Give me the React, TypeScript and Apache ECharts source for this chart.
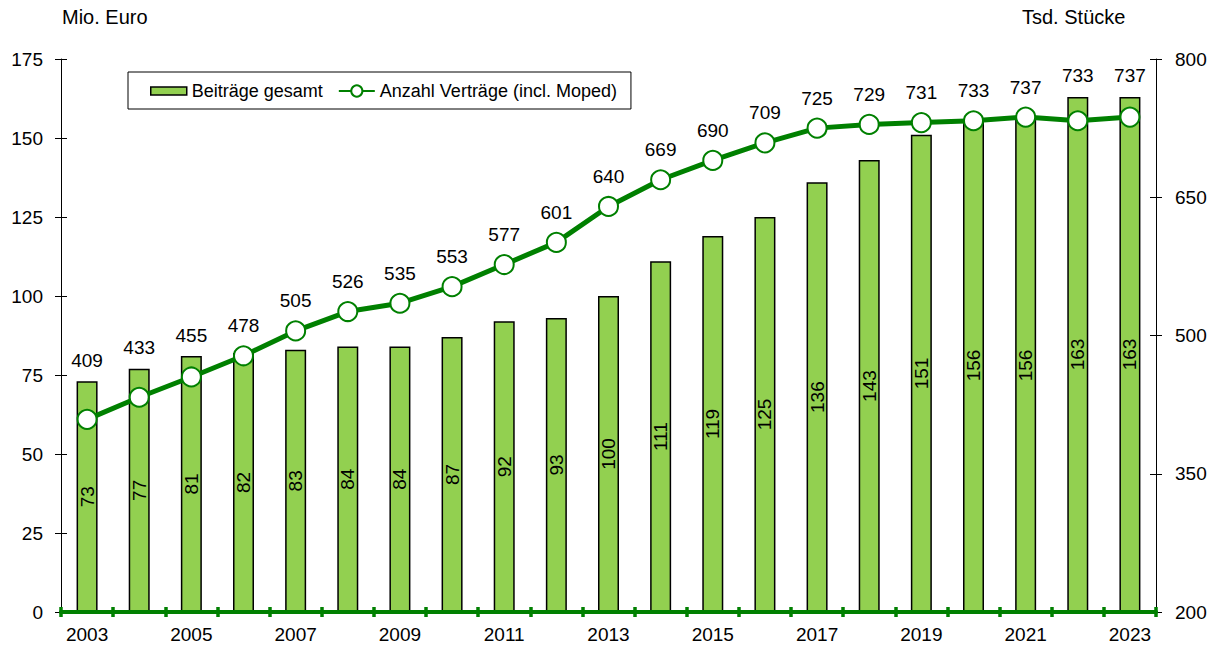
import React, { useEffect, useRef } from "react";
import * as echarts from "echarts";

const years = ["2003","2004","2005","2006","2007","2008","2009","2010","2011","2012","2013","2014","2015","2016","2017","2018","2019","2020","2021","2022","2023"];
const beitraege = [73,77,81,82,83,84,84,87,92,93,100,111,119,125,136,143,151,156,156,163,163];
const vertraege = [409,433,455,478,505,526,535,553,577,601,640,669,690,709,725,729,731,733,737,733,737];
const leftTitle = "Mio. Euro";
const rightTitle = "Tsd. Stücke";

const FONT = "Liberation Sans, Arial, sans-serif";
const LABEL_ABOVE_MARKER = 29;
const LABEL_ABOVE_BAR = 20;

export default function App() {
  const ref = useRef<HTMLDivElement>(null);
  useEffect(() => {
    if (!ref.current) return;
    const chart = echarts.init(ref.current, null, { renderer: "svg" });
    const tickStyle = { color: "#000", width: 1 };
    const lineLabelBase = {
      show: true,
      position: "top",
      distance: 10,
      fontSize: 19,
      color: "#000",
      fontFamily: FONT,
    };
    chart.setOption({
      animation: false,
      textStyle: { fontFamily: FONT },
      grid: { left: 61, right: 63, top: 59, bottom: 36, containLabel: false },
      legend: {
        left: 128,
        top: 72,
        padding: [10, 14, 9, 22],
        borderColor: "#000",
        borderWidth: 1,
        borderRadius: 0,
        itemGap: 15,
        itemWidth: 36,
        itemHeight: 14,
        textStyle: { fontSize: 18, color: "#000", fontFamily: FONT },
        data: [
          {
            name: "Beiträge gesamt",
            icon: "path://M0,0 L36,0 L36,8 L0,8 Z",
            itemStyle: { color: "#92D050", borderColor: "#000", borderWidth: 1.5 },
          },
          { name: "Anzahl Verträge (incl. Moped)" },
        ],
      },
      graphic: [
        { type: "text", left: 62, top: 7, style: { text: leftTitle, font: `20px ${FONT}`, fill: "#000" } },
        { type: "text", left: 1022, top: 7, style: { text: rightTitle, font: `20px ${FONT}`, fill: "#000" } },
      ],
      xAxis: [
        {
          type: "category",
          data: years,
          boundaryGap: true,
          axisLine: { show: true, lineStyle: { color: "#008000", width: 4 } },
          axisTick: { show: true, interval: 0, length: 5, lineStyle: { color: "#008000", width: 3.5 } },
          axisLabel: { interval: 1, fontSize: 19, color: "#000", margin: 13, fontFamily: FONT },
          z: 5,
        },
        {
          type: "category",
          data: years,
          boundaryGap: true,
          position: "bottom",
          axisLine: { show: false },
          axisTick: { show: true, inside: true, interval: 0, length: 5, lineStyle: { color: "#008000", width: 3.5 } },
          axisLabel: { show: false },
          splitLine: { show: false },
          z: 5,
        },
      ],
      yAxis: [
        {
          type: "value",
          min: 0,
          max: 175,
          interval: 25,
          position: "left",
          axisLine: { show: true, lineStyle: { color: "#000", width: 1 } },
          axisTick: { show: true, length: 6, lineStyle: tickStyle },
          axisLabel: { fontSize: 19, color: "#000", margin: 18, fontFamily: FONT },
          splitLine: { show: false },
        },
        {
          type: "value",
          min: 200,
          max: 800,
          interval: 150,
          position: "right",
          axisLine: { show: true, lineStyle: { color: "#000", width: 1 } },
          axisTick: { show: true, length: 6, lineStyle: tickStyle },
          axisLabel: { fontSize: 19, color: "#000", margin: 19, fontFamily: FONT },
          splitLine: { show: false },
        },
        {
          type: "value",
          min: 0,
          max: 175,
          interval: 25,
          position: "left",
          axisLine: { show: false },
          axisTick: { show: true, inside: true, length: 6, lineStyle: tickStyle },
          axisLabel: { show: false },
          splitLine: { show: false },
        },
        {
          type: "value",
          min: 200,
          max: 800,
          interval: 150,
          position: "right",
          axisLine: { show: false },
          axisTick: { show: true, inside: true, length: 6, lineStyle: tickStyle },
          axisLabel: { show: false },
          splitLine: { show: false },
        },
      ],
      series: [
        {
          name: "Beiträge gesamt",
          type: "bar",
          data: beitraege,
          yAxisIndex: 0,
          barWidth: 21,
          itemStyle: { color: "#92D050", borderColor: "#000", borderWidth: 1.5 },
          label: {
            show: true,
            position: "inside",
            rotate: 90,
            fontSize: 19,
            color: "#000",
            fontFamily: FONT,
          },
        },
        {
          name: "Anzahl Verträge (incl. Moped)",
          type: "line",
          data: vertraege,
          yAxisIndex: 1,
          symbol: "circle",
          symbolSize: 19,
          lineStyle: { color: "#008000", width: 5 },
          itemStyle: { color: "#fff", borderColor: "#008000", borderWidth: 2 },
          label: lineLabelBase,
          z: 3,
        },
      ],
    });

    // Lift line labels above the bar where the bar reaches above the marker
    const lineData = vertraege.map((v, i) => {
      const yMarker = chart.convertToPixel({ yAxisIndex: 1 }, v) as number;
      const yBar = chart.convertToPixel({ yAxisIndex: 0 }, beitraege[i]) as number;
      const normal = yMarker - LABEL_ABOVE_MARKER;
      const aboveBar = yBar - LABEL_ABOVE_BAR;
      const shift = aboveBar < normal ? aboveBar - normal : 0;
      return shift !== 0 ? { value: v, label: { offset: [0, shift] } } : v;
    });
    chart.setOption({ series: [{}, { data: lineData }] });

    return () => chart.dispose();
  }, []);
  return <div ref={ref} style={{ width: 1219, height: 648, position: "absolute", left: 0, top: 0 }} />;
}
